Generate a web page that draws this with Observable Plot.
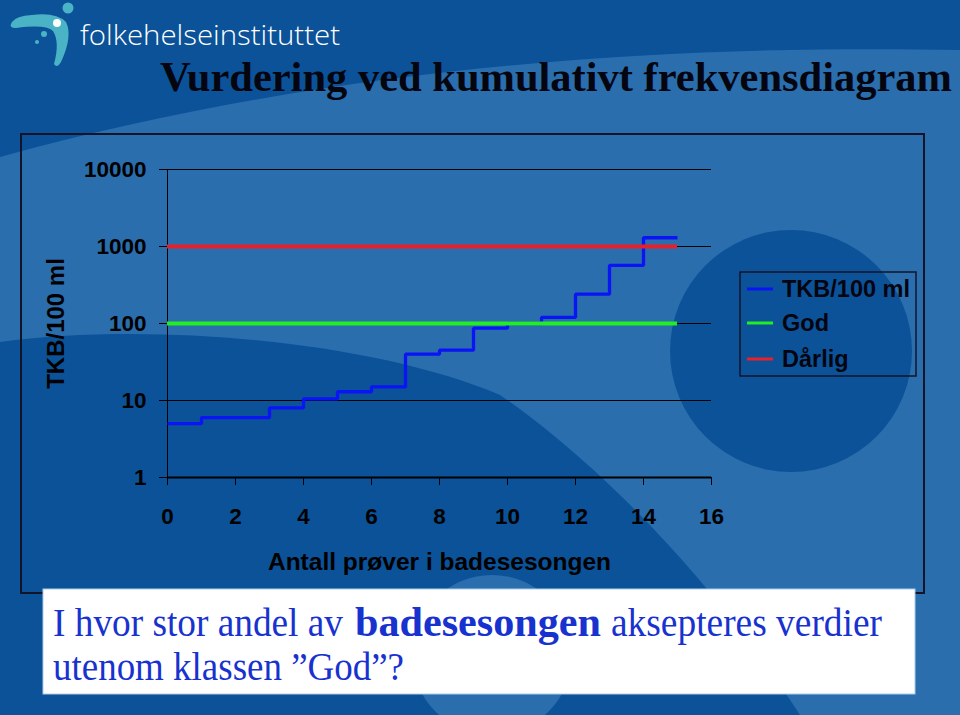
<!DOCTYPE html>
<html>
<head>
<meta charset="utf-8">
<script src="https://cdn.jsdelivr.net/npm/d3@7"></script>
<script src="https://cdn.jsdelivr.net/npm/@observablehq/plot@0.6"></script>
<style>
  html, body { margin: 0; padding: 0; width: 960px; height: 715px; overflow: hidden; background: #0b5299; }
  .abs { position: absolute; }
  #frame { left: 20px; top: 133px; width: 905px; height: 461px; box-sizing: border-box; border: 2px solid #141428; }
  #chart { left: 20px; top: 133px; }
</style>
</head>
<body>
<svg id="bg" class="abs" style="left:0;top:0" width="960" height="715"></svg>
<div id="frame" class="abs"></div>
<div id="chart" class="abs"></div>
<svg id="legend" class="abs" style="left:738px;top:270px" width="180" height="108"></svg>
<svg id="overlay" class="abs" style="left:0;top:0;pointer-events:none" width="960" height="715"></svg>
<script>
// ---------- data ----------
const sampleNo = [0, 1, 2, 3, 4, 5, 6, 7, 8, 9, 10, 11, 12, 13, 14];
const tkbValues = [5, 6, 6, 8, 10.5, 13, 15, 40, 45, 87, 100, 120, 240, 570, 1300];
const godLimit = 100;
const darligLimit = 1000;
const xTicks = [0, 2, 4, 6, 8, 10, 12, 14, 16];
const yTicks = [1, 10, 100, 1000, 10000];
const seriesNames = ["TKB/100 ml", "God", "Dårlig"];
const seriesColors = ["#0a14f5", "#22ee22", "#e8202a"];
const xLabel = "Antall prøver i badesesongen";
const yLabel = "TKB/100 ml";
const titleText = "Vurdering ved kumulativt frekvensdiagram";
const logoText = "folkehelseinstituttet";
const questionParts = ["I hvor stor andel av", "badesesongen", "aksepteres verdier", "utenom klassen \u201DGod\u201D?"];

const NS = "http://www.w3.org/2000/svg";
function el(parent, tag, attrs, text) {
  const e = document.createElementNS(NS, tag);
  for (const k in attrs) e.setAttribute(k, attrs[k]);
  if (text != null) e.textContent = text;
  parent.appendChild(e);
  return e;
}

// ---------- slide background ----------
const DARK = "#0b5299", LIGHT = "#2a6eae";
const bg = document.getElementById("bg");
el(bg, "rect", {x: 0, y: 0, width: 960, height: 715, fill: LIGHT});
el(bg, "path", {d: "M0,0 L960,0 L960,50 C700,45 350,60 0,157 Z", fill: DARK});
el(bg, "path", {d: "M0,715 L0,342 C150,322 370,340 500,395 C580,450 700,560 800,715 Z", fill: DARK});
el(bg, "circle", {cx: 791, cy: 351, r: 121, fill: DARK});
el(bg, "circle", {cx: 492, cy: 655, r: 80, fill: LIGHT});
// logo
el(bg, "path", {d: "M12,22 Q16,16 32,15 Q56,12 66,22 Q73,36 61,62 Q57,69 54,64 Q60,42 53,31 Q46,24 16,28 Q8,28 12,22 Z", fill: "#4ab4c6"});
el(bg, "circle", {cx: 68, cy: 8, r: 5.5, fill: "#4ab4c6"});
el(bg, "circle", {cx: 57, cy: 23, r: 4, fill: "#ffffff"});
el(bg, "circle", {cx: 44, cy: 34, r: 3, fill: "#4ab4c6"});
el(bg, "circle", {cx: 37, cy: 42, r: 2, fill: "#4ab4c6"});
el(bg, "text", {x: 80, y: 45, fill: "#ffffff", "font-family": "Open Sans, Lato, sans-serif", "font-weight": 300, "font-size": 28, textLength: 260, lengthAdjust: "spacingAndGlyphs"}, logoText);
// title
el(bg, "text", {x: 160, y: 91, fill: "#050510", "font-family": "Liberation Serif, Times New Roman, serif", "font-weight": "bold", "font-size": 42, textLength: 792, lengthAdjust: "spacingAndGlyphs"}, titleText);

// ---------- chart ----------
const stepData = sampleNo.map((x, i) => ({x, y: tkbValues[i]}));
stepData.push({x: sampleNo.length, y: tkbValues[tkbValues.length - 1]});

const chart = Plot.plot({
  width: 905,
  height: 461,
  marginLeft: 147,
  marginTop: 36,
  marginRight: 214,
  marginBottom: 117,
  x: {domain: [0, 16]},
  y: {type: "log", domain: [1, 10000]},
  style: {
    background: "transparent",
    color: "#000",
    fontFamily: "Liberation Sans, Arial, sans-serif",
    fontSize: "23px",
    fontWeight: "bold",
    overflow: "visible"
  },
  marks: [
    Plot.gridY(yTicks, {stroke: "#000", strokeOpacity: 1, strokeWidth: 1}),
    Plot.ruleY([1], {stroke: "#000", strokeWidth: 2}),
    Plot.ruleX([0], {stroke: "#000", strokeWidth: 1}),
    Plot.line(stepData, {x: "x", y: "y", curve: "step-after", stroke: seriesColors[0], strokeWidth: 3.3, strokeLinejoin: "miter", strokeLinecap: "butt"}),
    Plot.ruleY([godLimit], {x1: 0, x2: sampleNo.length, stroke: seriesColors[1], strokeWidth: 4}),
    Plot.ruleY([darligLimit], {x1: 0, x2: sampleNo.length, stroke: seriesColors[2], strokeWidth: 4}),
    Plot.axisY({ticks: yTicks, tickFormat: d3.format("d"), tickSize: 8, tickPadding: 13, stroke: "#000", fontSize: 22.5, label: null}),
    Plot.axisY({ticks: [], label: yLabel, labelAnchor: "center", labelOffset: 121, labelArrow: "none", fontSize: 24}),
    Plot.axisX({ticks: xTicks, tickFormat: d3.format("d"), tickSize: 8, tickPadding: 23, stroke: "#000", fontSize: 22.5, label: null}),
    Plot.axisX({ticks: [], label: xLabel, labelAnchor: "center", labelOffset: 92, labelArrow: "none", fontSize: 24.5})
  ]
});
document.getElementById("chart").appendChild(chart);

// ---------- legend ----------
const lg = document.getElementById("legend");
el(lg, "rect", {x: 2, y: 2, width: 176, height: 104, fill: "none", stroke: "#141428", "stroke-width": 1.5});
const rowY = [19, 53, 89];
seriesNames.forEach((name, i) => {
  el(lg, "line", {x1: 9, x2: 35, y1: rowY[i], y2: rowY[i], stroke: seriesColors[i], "stroke-width": 3});
  el(lg, "text", {x: 44, y: rowY[i] + 8, fill: "#050510", "font-family": "Liberation Sans, Arial, sans-serif", "font-weight": "bold", "font-size": 23.5}, name);
});

// ---------- question box ----------
const ov = document.getElementById("overlay");
el(ov, "rect", {x: 43, y: 589, width: 872, height: 105, fill: "#ffffff", stroke: "#a9cbe8", "stroke-width": 1});
const qStyle = {fill: "#1832d0", "font-family": "Liberation Serif, Times New Roman, serif", lengthAdjust: "spacingAndGlyphs"};
el(ov, "text", Object.assign({x: 53, y: 636, "font-size": 40, textLength: 290}, qStyle), questionParts[0]);
el(ov, "text", Object.assign({x: 355, y: 636, "font-size": 42, "font-weight": "bold", textLength: 246}, qStyle), questionParts[1]);
el(ov, "text", Object.assign({x: 611, y: 636, "font-size": 40, textLength: 271}, qStyle), questionParts[2]);
el(ov, "text", Object.assign({x: 53, y: 680, "font-size": 40, textLength: 351}, qStyle), questionParts[3]);
</script>
</body>
</html>
